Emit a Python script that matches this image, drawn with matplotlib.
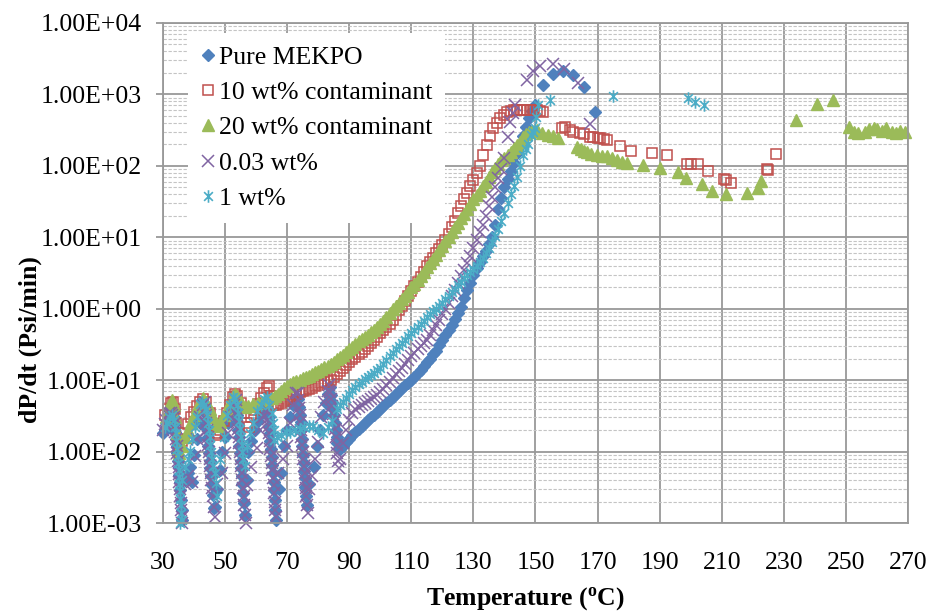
"""dP/dt vs temperature, MEKPO with contaminants (log scale scatter)"""

import matplotlib
matplotlib.use("Agg")
import matplotlib.pyplot as plt
from matplotlib.path import Path
from matplotlib.ticker import LogLocator, FuncFormatter

# ── data ────────────────────────────────────────────────
# Pure MEKPO
mekpo_T = [
    30.0, 30.5, 31.0, 31.5, 32.0, 32.5, 33.0,
    33.5, 33.7, 34.0, 34.2, 34.4, 34.6, 34.8, 35.0, 35.2, 35.4, 35.6, 35.8, 36.0, 36.2,
    37.0, 38.0, 38.7, 39.3, 40.0, 41.0, 42.0, 43.0,
    43.4, 43.7, 44.0, 44.2, 44.4, 44.6, 44.8, 45.0, 45.2, 45.4, 45.7, 46.0, 46.3, 46.8,
    47.5, 48.4, 49.0, 50.0, 51.0, 52.0, 53.0,
    53.4, 53.7, 54.0, 54.2, 54.4, 54.6, 54.8, 55.0, 55.2, 55.4, 55.6, 55.8, 56.0, 56.3,
    57.0, 57.5, 58.5, 59.5, 60.5, 61.5, 62.5, 63.3,
    63.7, 64.0, 64.2, 64.4, 64.6, 64.8, 65.0, 65.2, 65.4, 65.6, 65.8, 66.0, 66.2, 66.4,
    67.3, 68.0, 69.0, 70.0, 71.0, 72.0, 73.0,
    73.6, 73.9, 74.1, 74.3, 74.5, 74.7, 74.9, 75.1, 75.3, 75.5, 75.7, 75.9, 76.1, 76.4,
    77.0, 78.5, 79.5, 80.5, 81.5, 82.5, 83.3,
    83.8, 84.1, 84.4, 84.7, 85.0, 85.3, 85.6, 85.9, 86.2, 86.6,
    87, 88, 89, 90, 91, 92, 93, 94, 95, 96,
    97, 98, 99, 100, 101, 102, 103, 104, 105, 106,
    107, 108, 109, 110, 111, 112, 113, 114, 115, 116,
    117, 118, 119, 120, 121, 122, 123, 124, 125, 126,
    127, 128, 129, 130, 131, 132, 133, 134, 135, 136,
    137, 138, 139, 140, 141, 142, 143, 144, 145, 146,
    147, 148, 149, 150,
    152.4, 155.6, 158.8, 162.0, 165.6, 169.1,
]
mekpo_rate = [
    0.018, 0.020, 0.022, 0.025, 0.028, 0.032, 0.035,
    0.030, 0.024, 0.019, 0.015, 0.012, 0.0095, 0.0075, 0.006, 0.0047, 0.0037, 0.0029, 0.0021, 0.0015, 0.0011,
    0.004, 0.005, 0.0061, 0.0038, 0.009, 0.015, 0.025, 0.038,
    0.042, 0.034, 0.027, 0.021, 0.016, 0.012, 0.0095, 0.0075, 0.0058, 0.0045, 0.0034, 0.0025, 0.0016, 0.0017,
    0.003, 0.0056, 0.010, 0.016, 0.025, 0.035, 0.045,
    0.042, 0.033, 0.026, 0.020, 0.016, 0.012, 0.0095, 0.0075, 0.0058, 0.0045, 0.0035, 0.0026, 0.0019, 0.0013,
    0.004, 0.010, 0.014, 0.020, 0.027, 0.034, 0.040, 0.045,
    0.038, 0.030, 0.023, 0.018, 0.014, 0.011, 0.0085, 0.0065, 0.005, 0.0038, 0.0029, 0.0021, 0.0015, 0.0011,
    0.003, 0.005, 0.012, 0.020, 0.030, 0.045, 0.058,
    0.055, 0.042, 0.033, 0.026, 0.020, 0.015, 0.012, 0.009, 0.007, 0.0054, 0.0042, 0.0032, 0.0024, 0.0018,
    0.0035, 0.006, 0.012, 0.020, 0.032, 0.048, 0.065,
    0.080, 0.062, 0.050, 0.040, 0.032, 0.025, 0.020, 0.016, 0.013, 0.011,
    0.011, 0.012, 0.0135, 0.015, 0.017, 0.019, 0.021, 0.023, 0.025, 0.028,
    0.030, 0.033, 0.036, 0.040, 0.044, 0.048, 0.053, 0.058, 0.064, 0.070,
    0.077, 0.085, 0.092, 0.100, 0.112, 0.125, 0.14, 0.16, 0.18, 0.20,
    0.23, 0.26, 0.31, 0.36, 0.43, 0.50, 0.60, 0.72, 0.88, 1.05,
    1.4, 1.8, 2.3, 3.0, 3.7, 4.5, 5.4, 6.5, 8.0, 10,
    15, 25, 35, 50, 65, 85, 110, 150, 190, 260,
    350, 460, 580, 700,
    1355, 1930, 2130, 1870, 1270, 570,
]

# 10 wt% contaminant
c10_T = [
    30.5, 31.5, 32.5, 33.2, 33.8, 34.3, 34.8, 35.3, 36.0, 37.0, 38.0, 39.0, 40.0, 41.0, 42.0, 43.0,
    44.0, 45.0, 46.0, 47.0, 47.5, 48.5, 49.5, 50.5, 51.5, 52.5, 53.2, 54.0, 55.0, 56.0, 57.0, 57.7,
    58.5, 59.5, 60.5, 61.5, 62.5, 63.5, 64.3, 64.8, 65.3, 66.5,
    67, 68, 69, 70, 71, 72, 73, 74, 75, 76,
    77, 78, 79, 80, 81, 82, 83, 84, 85, 86,
    87, 88, 89, 90, 91, 92, 93, 94, 95, 96,
    97, 98, 99, 100, 101, 102, 103, 104, 105, 106,
    107, 108, 109, 110, 111, 112, 113, 114, 115, 116,
    117, 118, 119, 120, 121, 122, 123, 124, 125, 126,
    127, 128, 129, 130, 131, 132,
    133.0, 134.3, 135.3, 136.4, 137.5, 138.6, 139.7, 140.8, 142.0, 143.0, 144.0, 145.0,
    146.0, 147.3, 148.5, 149.5, 150.5, 151.5, 152.4,
    158.5, 159.5, 161.1, 162.0, 164.3, 165.5, 167.5, 168.5, 170.0, 170.8, 172.0, 173.0,
    177.2, 180.7, 187.5, 192.3, 198.8, 200.0, 202.3, 205.5, 210.7, 211.5, 213.0,
    224.6, 225.0, 227.5,
]
c10_rate = [
    0.033, 0.040, 0.048, 0.050, 0.040, 0.025, 0.015, 0.012, 0.014, 0.018, 0.024, 0.030, 0.036, 0.043, 0.050, 0.054,
    0.050, 0.035, 0.024, 0.018, 0.017, 0.020, 0.027, 0.035, 0.045, 0.058, 0.065, 0.060, 0.048, 0.035, 0.025, 0.022,
    0.030, 0.038, 0.047, 0.056, 0.066, 0.078, 0.082, 0.060, 0.045, 0.045,
    0.047, 0.048, 0.051, 0.055, 0.058, 0.062, 0.065, 0.068, 0.070, 0.072,
    0.075, 0.078, 0.082, 0.086, 0.090, 0.094, 0.097, 0.100, 0.110, 0.120,
    0.135, 0.150, 0.165, 0.180, 0.195, 0.210, 0.230, 0.250, 0.275, 0.300,
    0.33, 0.36, 0.40, 0.45, 0.50, 0.55, 0.62, 0.70, 0.82, 0.95,
    1.1, 1.3, 1.5, 1.75, 2.05, 2.4, 2.8, 3.3, 3.9, 4.5,
    5.2, 6.0, 6.9, 7.8, 9.2, 11, 14, 17, 22, 27,
    34, 42, 52, 64, 80, 100,
    140, 195, 260, 340, 400, 465, 520, 560, 590, 600, 610, 610,
    605, 605, 600, 610, 600, 590, 570,
    340, 345, 318, 300, 290, 275, 254, 250, 245, 245, 235, 230,
    190, 162, 151, 141, 106, 106, 106, 85, 65, 63, 57.5,
    90, 88, 147,
]

# 20 wt% contaminant
c20_T = [
    31.0, 32.0, 32.9, 33.5, 34.0, 34.5, 34.8, 35.3, 36.0, 37.0, 38.0, 39.0, 40.0, 41.0, 42.0, 42.9,
    44.0, 45.0, 46.0, 47.0, 47.7, 48.5, 49.5, 50.5, 51.5, 52.5, 53.2, 54.0, 55.0, 56.4,
    57.5, 59.0, 60.5, 62.0, 63.5, 65.0,
    66, 67, 68, 69, 70, 71, 72, 73, 74, 75,
    76, 77, 78, 79, 80, 81, 82, 83, 84, 85,
    86, 87, 88, 89, 90, 91, 92, 93, 94, 95,
    96, 97, 98, 99, 100, 101, 102, 103, 104, 105,
    106, 107, 108, 109, 110, 111, 112, 113, 114, 115,
    116, 117, 118, 119, 120, 121, 122, 123, 124, 125,
    126, 127, 128, 129, 130, 131, 132, 133, 134, 135,
    136, 137, 138, 139, 140, 141, 142, 143, 144, 145,
    146, 147, 148, 149, 150.4,
    152.0, 154.0, 155.5, 157.3, 163.4, 164.5, 165.5, 166.5, 168.0, 169.8, 171.5, 173.0,
    174.5, 176.2, 177.8, 179.4, 184.6, 190.0, 195.9, 198.4, 203.6, 206.9, 211.3, 218.1, 221.6, 222.6,
    233.9, 240.7, 245.8, 251.0, 252.5, 254.0, 256.0, 257.5, 259.0, 260.0, 261.5, 263.0,
    265.0, 266.0, 267.5, 269.0,
]
c20_rate = [
    0.030, 0.045, 0.053, 0.045, 0.030, 0.018, 0.011, 0.0097, 0.012, 0.016, 0.020, 0.026, 0.033, 0.042, 0.050, 0.056,
    0.050, 0.040, 0.030, 0.025, 0.023, 0.026, 0.032, 0.040, 0.050, 0.060, 0.065, 0.060, 0.050, 0.042,
    0.044, 0.046, 0.048, 0.050, 0.053, 0.057,
    0.060, 0.065, 0.070, 0.077, 0.084, 0.088, 0.093, 0.097, 0.100, 0.106,
    0.111, 0.115, 0.122, 0.128, 0.135, 0.143, 0.151, 0.160, 0.170, 0.182,
    0.195, 0.21, 0.225, 0.245, 0.27, 0.29, 0.32, 0.35, 0.38, 0.40,
    0.43, 0.47, 0.51, 0.56, 0.62, 0.68, 0.76, 0.88, 1.0, 1.1,
    1.22, 1.35, 1.5, 1.7, 2.0, 2.25, 2.55, 2.9, 3.3, 3.8,
    4.3, 4.95, 5.7, 6.6, 7.6, 8.8, 10.2, 12, 14, 16,
    18.5, 21.5, 25, 29, 34, 39, 45, 52, 60, 70,
    82, 92, 105, 120, 130, 140, 155, 175, 195, 215,
    250, 275, 295, 310, 320,
    290, 270, 260, 245, 184, 170, 160, 156, 148, 141, 138, 138,
    128, 121, 115, 110, 102, 93, 82, 67, 55, 44.6, 40, 42, 49, 61,
    438, 735, 836, 350, 300, 285, 295, 330, 340, 325, 310, 340,
    300, 285, 310, 295,
]

# 0.03 wt%
p003_T = [
    30.0, 30.5, 31.0, 31.5, 32.0, 32.5, 33.0,
    33.5, 33.7, 34.0, 34.2, 34.4, 34.6, 34.8, 35.0, 35.1, 35.3, 35.4, 35.6, 35.7, 35.9, 36.0, 36.2,
    37.0, 38.0, 39.3, 40.3, 41.0, 42.0, 43.0,
    43.4, 43.6, 43.8, 44.0, 44.2, 44.4, 44.6, 44.8, 45.0, 45.2, 45.4, 45.6, 45.8, 46.0, 46.3, 46.6,
    47.5, 49.0, 50.0, 51.0, 52.0, 53.0,
    53.4, 53.6, 53.8, 54.0, 54.2, 54.4, 54.6, 54.8, 55.0, 55.2, 55.4, 55.6, 55.8, 56.0, 56.2, 56.4, 56.6,
    57.0, 58.5, 60.3, 61.3, 62.3, 63.2,
    63.6, 63.8, 64.0, 64.2, 64.4, 64.6, 64.8, 65.0, 65.2, 65.4, 65.6, 65.8, 66.0, 66.2, 66.5,
    67.0, 68.5, 70.0, 71.0, 72.0, 73.0,
    73.4, 73.6, 73.8, 74.0, 74.2, 74.4, 74.6, 74.8, 75.0, 75.2, 75.4, 75.6, 75.8, 76.0, 76.2, 76.4, 76.6,
    77.0, 78.0, 79.0, 80.0, 81.0, 82.0, 83.0,
    83.5, 83.8, 84.1, 84.4, 84.7, 85.0, 85.3, 85.6, 85.9, 86.2, 86.5, 86.8,
    87, 88, 89, 90, 91, 92, 93, 94, 95, 96,
    97, 98, 99, 100, 101, 102, 103, 104, 105, 106,
    107, 108, 109, 110, 111, 112, 113, 114, 115, 116,
    117, 118, 119, 120, 121, 122, 123, 124, 125, 126,
    127, 128, 129, 130, 131, 132, 133, 134, 135, 136,
    137, 138, 139, 140,
    141.0, 141.8, 142.6, 143.4,
    147.3, 149.2, 151.4, 155.6, 159.2, 163.7, 167.5,
]
p003_rate = [
    0.020, 0.024, 0.028, 0.032, 0.035, 0.035, 0.033,
    0.030, 0.024, 0.019, 0.015, 0.012, 0.0095, 0.0075, 0.006, 0.0048, 0.0038, 0.003, 0.0024, 0.0019, 0.0015, 0.0012, 0.0010,
    0.0035, 0.0045, 0.0038, 0.0088, 0.015, 0.030, 0.045,
    0.050, 0.040, 0.032, 0.025, 0.020, 0.016, 0.0125, 0.010, 0.008, 0.0063, 0.005, 0.004, 0.0031, 0.0024, 0.0017, 0.0012,
    0.0035, 0.0050, 0.0097, 0.018, 0.030, 0.045,
    0.052, 0.041, 0.033, 0.026, 0.021, 0.016, 0.013, 0.010, 0.008, 0.0063, 0.005, 0.004, 0.0031, 0.0024, 0.0018, 0.0013, 0.0010,
    0.0034, 0.0060, 0.0113, 0.020, 0.030, 0.040,
    0.036, 0.029, 0.023, 0.018, 0.014, 0.011, 0.0088, 0.007, 0.0055, 0.0043, 0.0034, 0.0026, 0.002, 0.0015, 0.0012,
    0.0050, 0.0080, 0.0118, 0.025, 0.045, 0.066,
    0.066, 0.052, 0.041, 0.033, 0.026, 0.020, 0.016, 0.0125, 0.010, 0.008, 0.0063, 0.005, 0.004, 0.0031, 0.0024, 0.0018, 0.0014,
    0.0030, 0.0046, 0.0080, 0.0135, 0.030, 0.050, 0.070,
    0.085, 0.068, 0.054, 0.043, 0.034, 0.027, 0.021, 0.016, 0.0125, 0.0095, 0.0075, 0.0058,
    0.008, 0.013, 0.020, 0.028, 0.035, 0.039, 0.042, 0.045, 0.048, 0.051,
    0.055, 0.058, 0.062, 0.068, 0.075, 0.085, 0.095, 0.107, 0.12, 0.135,
    0.15, 0.17, 0.19, 0.215, 0.24, 0.27, 0.30, 0.33, 0.37, 0.43,
    0.50, 0.59, 0.70, 0.84, 1.0, 1.22, 1.5, 1.85, 2.3, 2.85,
    3.5, 4.4, 5.5, 7.1, 9.2, 11.7, 15, 20, 27, 37,
    50, 67, 90, 130,
    250, 410, 550, 710,
    1590, 2130, 2500, 2630, 2270, 1450, 385,
]

# 1 wt%
c1_T = [
    30.5, 31.2, 32.0, 32.8, 33.5,
    33.9, 34.1, 34.3, 34.5, 34.7, 34.9, 35.0, 35.2, 35.3, 35.5, 35.6, 35.8, 35.9, 36.1, 35.4, 36.0,
    37.0, 38.0, 38.7, 39.5, 40.3, 41.0, 42.0, 42.6, 43.2,
    43.8, 44.1, 44.4, 44.7, 45.0, 45.3, 45.6, 45.9, 46.2, 46.6, 47.0, 47.4,
    48.5, 49.5, 50.6, 51.5, 52.5, 53.2,
    53.8, 54.1, 54.4, 54.7, 55.0, 55.3, 55.6, 55.9, 56.3,
    57.0, 58.0, 59.0, 60.3, 61.5, 62.5, 63.5, 64.3,
    65.0, 65.3, 65.6, 65.9, 66.7, 68.0, 69.5, 71.0, 72.5, 74.0, 75.5, 77.0, 78.3,
    80.0, 81.5, 83.0, 84.5,
    86, 87, 88, 89, 90, 91, 92, 93, 94, 95,
    96, 97, 98, 99, 100, 101, 102, 103, 104, 105,
    106, 107, 108, 109, 110, 111, 112, 113, 114, 115,
    116, 117, 118, 119, 120, 121, 122, 123, 124, 125,
    126, 127, 128, 129, 130, 131, 132, 133, 134, 135,
    136, 137, 138, 139, 140, 141, 142, 143, 144, 145,
    146.0, 146.8, 147.5, 148.5, 149.2, 149.8, 150.3, 150.8,
    154.6, 175.0, 199.0, 201.3, 204.2,
]
c1_rate = [
    0.022, 0.025, 0.030, 0.033, 0.028,
    0.022, 0.018, 0.014, 0.011, 0.0088, 0.007, 0.0055, 0.0044, 0.0035, 0.0028, 0.0022, 0.0018, 0.0014, 0.0011, 0.0010, 0.004,
    0.006, 0.008, 0.0102, 0.015, 0.022, 0.030, 0.047, 0.050, 0.045,
    0.040, 0.032, 0.025, 0.020, 0.016, 0.0125, 0.010, 0.008, 0.0063, 0.005, 0.0036, 0.0024,
    0.008, 0.016, 0.033, 0.045, 0.058, 0.055,
    0.045, 0.035, 0.027, 0.021, 0.016, 0.0125, 0.0098, 0.0078, 0.0062,
    0.012, 0.018, 0.025, 0.037, 0.045, 0.055, 0.058, 0.045,
    0.035, 0.025, 0.020, 0.0146, 0.0158, 0.017, 0.019, 0.019, 0.020, 0.021, 0.022, 0.023, 0.023,
    0.020, 0.018, 0.022, 0.027,
    0.040, 0.045, 0.050, 0.057, 0.065, 0.072, 0.080, 0.088, 0.095, 0.103,
    0.11, 0.117, 0.125, 0.137, 0.15, 0.17, 0.19, 0.215, 0.24, 0.27,
    0.30, 0.33, 0.37, 0.41, 0.45, 0.50, 0.55, 0.61, 0.68, 0.76,
    0.85, 0.92, 1.0, 1.1, 1.2, 1.35, 1.5, 1.7, 1.9, 2.15,
    2.4, 2.7, 3.0, 3.3, 3.6, 4.0, 4.5, 5.2, 6.0, 7.1,
    8.5, 10.5, 13, 17, 22, 30, 40, 53, 70, 100,
    140, 170, 200, 270, 300, 340, 480, 710,
    836, 950, 890, 780, 700,
]

X_TICKS = [30, 50, 70, 90, 110, 130, 150, 170, 190, 210, 230, 250, 270]

# ── styles ──────────────────────────────────────────────
plt.rcParams["font.family"] = ["Liberation Serif", "DejaVu Serif"]
plt.rcParams["mathtext.fontset"] = "custom"
plt.rcParams["mathtext.rm"] = "Liberation Serif"
plt.rcParams["mathtext.bf"] = "Liberation Serif:bold"

BLUE, RED, GREEN, PURPLE, CYAN = "#4F81BD", "#C0504D", "#9BBB59", "#8064A2", "#4BACC6"

# Excel-like asterisk: an x with a vertical bar
STAR = Path(
    [(0, -1), (0, 1), (-0.7, -0.7), (0.7, 0.7), (-0.7, 0.7), (0.7, -0.7)],
    [Path.MOVETO, Path.LINETO] * 3,
)

fig, ax = plt.subplots(figsize=(9.33, 6.11), dpi=100)
fig.subplots_adjust(left=0.1747, right=0.9732, top=0.9624, bottom=0.144)

common = dict(linestyle="none", clip_on=False)
ax.plot(mekpo_T, mekpo_rate, marker="D", ms=6.3, color=BLUE, mec=BLUE,
        label="Pure MEKPO", **common)
ax.plot(c10_T, c10_rate, marker="s", ms=7.5, mfc="none", mec=RED, mew=1.1,
        label="10 wt% contaminant", **common)
ax.plot(c20_T, c20_rate, marker="^", ms=8, color=GREEN, mec=GREEN,
        label="20 wt% contaminant", **common)
ax.plot(p003_T, p003_rate, marker="x", ms=8, mec=PURPLE, mew=1.1,
        label="0.03 wt%", **common)
ax.plot(c1_T, c1_rate, marker=STAR, ms=9, mec=CYAN, mew=1.2,
        label="1 wt%", **common)

# ── axes ────────────────────────────────────────────────
ax.set_yscale("log")
ax.set_xlim(30, 270)
ax.set_ylim(1e-3, 1e4)
ax.set_xticks(X_TICKS)
ax.yaxis.set_major_locator(LogLocator(base=10, numticks=20))
ax.yaxis.set_minor_locator(LogLocator(base=10, subs=range(2, 10), numticks=20))
ax.yaxis.set_major_formatter(FuncFormatter(lambda v, _: f"{v:.2E}"))

ax.set_axisbelow(True)
ax.grid(which="major", axis="both", color="#999999", linewidth=1.3)
ax.grid(which="minor", axis="y", color="#c4c4c4", linewidth=0.8, linestyle=(0, (3, 1.5)))

for sp in ax.spines.values():
    sp.set_color("#999999")
    sp.set_linewidth(1.3)

ax.tick_params(axis="x", length=0, pad=21, labelsize=18.5)
ax.tick_params(axis="y", which="major", direction="out", length=5, width=1.3,
               color="#999999", pad=10, labelsize=18.5)
ax.tick_params(axis="y", which="minor", length=0)

ax.set_xlabel(r"Temperature ($\mathbf{^{o}}$C)", fontsize=18.5, fontweight="bold")
ax.set_ylabel("dP/dt (Psi/min)", fontsize=18.5, fontweight="bold")
ax.xaxis.set_label_coords(0.486, -0.125)
ax.yaxis.set_label_coords(-0.162, 0.366)

leg = ax.legend(loc="upper left", bbox_to_anchor=(0.034, 0.98), borderaxespad=0,
                fontsize=18.5, frameon=True, fancybox=False, framealpha=1,
                edgecolor="none", handlelength=0.5, handletextpad=0.2,
                labelspacing=0.48, borderpad=0.5)
leg.set_zorder(10)

fig.savefig("out.png", dpi=100)
plt.close(fig)
